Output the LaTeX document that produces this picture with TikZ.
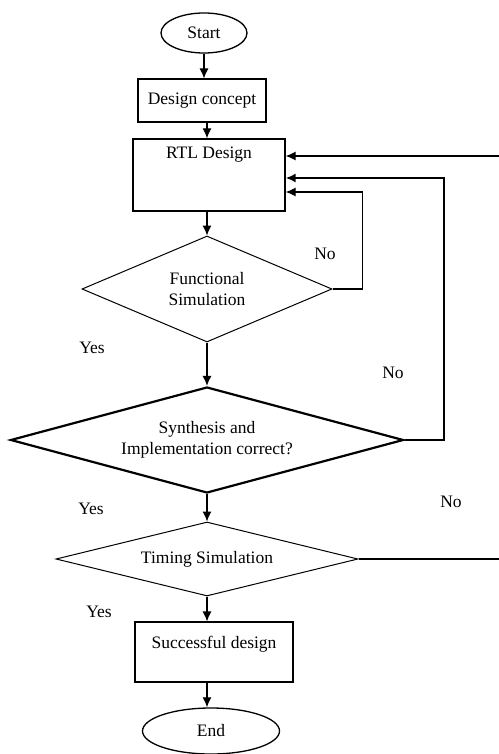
\documentclass[tikz,border=0pt]{standalone}
\usepackage{fontspec}
\setmainfont{Liberation Serif}
\usepackage{tikz}
\usetikzlibrary{shapes.geometric, arrows.meta, calc}

\tikzset{
  flowbox/.style={draw, rectangle, line width=1.1pt, inner sep=0pt},
  decision/.style={draw, diamond, line width=1pt, inner sep=0pt, align=center},
  terminal/.style={draw, ellipse, line width=1.3pt, inner sep=0pt},
  flow/.style={-{Latex[length=10pt,width=9pt]}, line width=1.2pt},
}

\begin{document}
\begin{tikzpicture}[x=1pt, y=-1pt, font=\fontsize{17.5}{21}\selectfont]
\useasboundingbox (0,0) rectangle (498,754);

  %% Main column
  \node[terminal, minimum width=86, minimum height=40] (start) at (204,33) {Start};
  \node[flowbox, minimum width=128, minimum height=43] (concept) at (202,100.5) {Design concept};
  \node[flowbox, line width=1.3pt, minimum width=152, text height=20, text depth=52] (rtl) at (209,175) {RTL Design};
  \node[decision, minimum width=250, minimum height=106, aspect=2.36] (func) at (207,289) {Functional\\Simulation};
  \node[decision, line width=2.2pt, minimum width=393, minimum height=106, aspect=3.7] (synth) at (207,440) {Synthesis and\\Implementation correct?};
  \node[decision, minimum width=302, minimum height=74, aspect=4.08] (timing) at (207,559) {Timing Simulation};
  \node[flowbox, minimum width=158, text height=26, text depth=34] (done) at (214,652) {Successful design};
  \node[terminal, minimum width=137, minimum height=46] (finish) at (211,731) {End};

  %% Arrows down
  \draw[flow] (start.south) -- (start.south |- concept.north);
  \draw[flow] (concept.south -| func.north) -- (rtl.north -| func.north);
  \draw[flow] (rtl.south -| func.north) -- (func.north);
  \draw[flow] (func.south) -- (synth.north);
  \draw[flow] (synth.south) -- (timing.north);
  \draw[flow] (timing.south) -- (timing.south |- done.north);
  \draw[flow] (done.south -| timing.south) -- (finish.north -| timing.south);

  %% Loops back to RTL Design
  \coordinate (in1) at ($(rtl.east)+(0,-19)$);
  \coordinate (in2) at ($(rtl.east)+(0,3)$);
  \coordinate (in3) at ($(rtl.east)+(0,17)$);
  \draw[flow] (func.east) -- ++(30,0) |- (in3);
  \draw[flow, line width=1.8pt] (synth.east) -- ++(39,0) |- (in2);
  \draw[flow] (timing.east) -- ++(150,0) |- (in1);

  %% Yes / No labels
  \foreach \x/\y/\t/\n in {325/254/No/nofunc,
                           92/348/Yes/yesfunc,
                           393/373/No/nosynth,
                           91/509/Yes/yessynth,
                           451/502/No/notiming,
                           99/612/Yes/yestiming}{
    \node (\n) at (\x,\y) {\t};
  }

\end{tikzpicture}
\end{document}
